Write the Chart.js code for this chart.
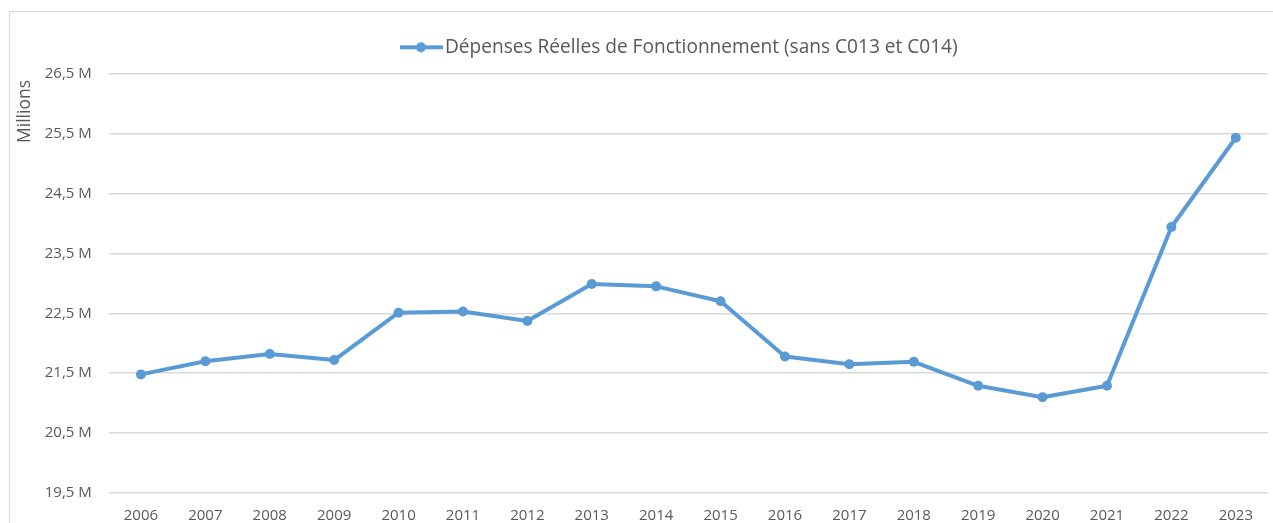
<!DOCTYPE html>
<html>
<head>
<meta charset="utf-8">
<script src="https://cdn.jsdelivr.net/npm/chart.js@4/dist/chart.umd.min.js"></script>
<style>
  html, body { margin: 0; padding: 0; background: #ffffff; overflow: hidden; }
  #wrap { position: relative; width: 1273px; height: 523px; }
  #frame { position: absolute; left: 9px; top: 11px; width: 1400px; height: 600px; border: 1px solid #d9d9d9; box-sizing: border-box; }
  canvas { position: absolute; left: 0; top: 0; }
</style>
</head>
<body>
<div id="wrap">
  <div id="frame"></div>
  <canvas id="c" width="1273" height="523"></canvas>
</div>
<script>
// ---- data ----
const years = ['2006','2007','2008','2009','2010','2011','2012','2013','2014','2015','2016','2017','2018','2019','2020','2021','2022','2023'];
const depenses = [21.48, 21.70, 21.82, 21.72, 22.51, 22.53, 22.37, 22.99, 22.95, 22.70, 21.78, 21.65, 21.69, 21.29, 21.10, 21.29, 23.94, 25.43];
const yTickValues = [19.5, 20.5, 21.5, 22.5, 23.5, 24.5, 25.5, 26.5];
const yTickLabels = ['19,5 M', '20,5 M', '21,5 M', '22,5 M', '23,5 M', '24,5 M', '25,5 M', '26,5 M'];
const seriesLabel = 'Dépenses Réelles de Fonctionnement (sans C013 et C014)';
const yTitle = 'Millions';

const BLUE = '#5B9BD5';
const TEXT = '#595959';
const GRID = '#d9d9d9';
const FONT = '"Open Sans", Lato, sans-serif';

// legend symbol: line with a round marker
const sym = document.createElement('canvas');
sym.width = 43; sym.height = 12;
(function () {
  const g = sym.getContext('2d');
  g.strokeStyle = BLUE; g.lineWidth = 4; g.lineCap = 'butt';
  g.beginPath(); g.moveTo(0, 6); g.lineTo(43, 6); g.stroke();
  g.fillStyle = BLUE; g.beginPath(); g.arc(21, 6, 5, 0, Math.PI * 2); g.fill();
})();

// place the legend row where the original has it, and the rotated unit label
const placement = {
  id: 'placement',
  afterLayout(chart) {
    const lg = chart.legend;
    if (lg) {
      const w = lg.right - lg.left;
      lg.left = 407.55 - lg.options.labels.padding;
      lg.right = lg.left + w;
      lg.top -= 6.85;
      lg.bottom -= 6.85;
    }
  },
  afterDraw(chart) {
    const ctx = chart.ctx;
    ctx.save();
    ctx.translate(25, 111.5);
    ctx.rotate(-Math.PI / 2);
    ctx.fillStyle = TEXT;
    ctx.font = '17.5px ' + FONT;
    ctx.textAlign = 'center';
    ctx.textBaseline = 'middle';
    ctx.fillText(yTitle, 0, 0);
    ctx.restore();
  }
};

new Chart(document.getElementById('c'), {
  type: 'line',
  data: {
    labels: years,
    datasets: [{
      label: seriesLabel,
      data: depenses,
      borderColor: BLUE,
      backgroundColor: BLUE,
      borderWidth: 4,
      pointRadius: 5,
      pointHoverRadius: 5,
      pointBackgroundColor: BLUE,
      pointBorderColor: BLUE,
      pointBorderWidth: 0,
      pointStyle: 'circle',
      tension: 0,
      borderJoinStyle: 'round',
      borderCapStyle: 'round'
    }]
  },
  plugins: [placement],
  options: {
    responsive: false,
    animation: false,
    devicePixelRatio: 1,
    layout: { padding: { top: 20.25, left: 0, right: 4, bottom: 0 } },
    plugins: {
      tooltip: { enabled: false },
      legend: {
        display: true,
        position: 'top',
        align: 'start',
        labels: {
          usePointStyle: true,
          pointStyle: sym,
          pointStyleWidth: 27.9,
          boxHeight: 12,
          padding: 24.35,
          color: TEXT,
          font: { family: FONT, size: 19.1 }
        }
      }
    },
    scales: {
      x: {
        type: 'category',
        offset: true,
        grid: { display: false, drawTicks: false },
        border: { display: false },
        ticks: { color: TEXT, font: { family: FONT, size: 15 }, padding: 14, maxRotation: 0, autoSkip: false },
        afterFit: (s) => { s.height = 30; }
      },
      y: {
        min: 19.5,
        max: 26.5,
        grid: { color: GRID, lineWidth: 1.5, drawTicks: false },
        border: { display: false },
        afterBuildTicks: (s) => { s.ticks = yTickValues.map(v => ({ value: v })); },
        ticks: {
          color: TEXT,
          font: { family: FONT, size: 15 },
          padding: 17,
          callback: (v) => yTickLabels[yTickValues.indexOf(v)]
        },
        afterFit: (s) => { s.width = 108.75; }
      }
    }
  }
});
</script>
</body>
</html>
